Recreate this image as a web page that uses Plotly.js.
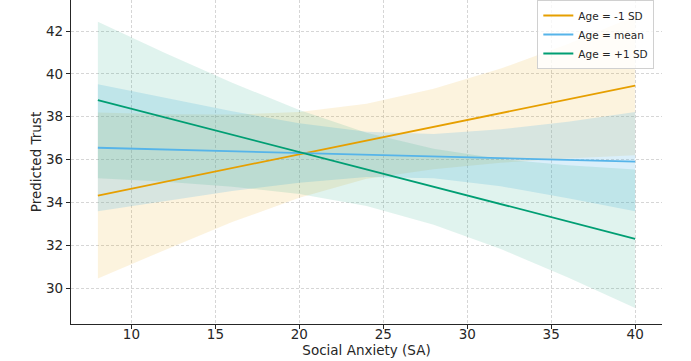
<!DOCTYPE html>
<html>
<head>
<meta charset="utf-8">
<script src="https://cdn.plot.ly/plotly-3.0.1.min.js"></script>
<style>
    body { margin: 0; background: #fff; }
    #chart { width: 691px; height: 361px; }
</style>
</head>
<body>
<div id="chart"></div>
<script>
// Social anxiety values where the predictions were read
const saValues = [8, 12, 16, 20, 24, 28, 32, 36, 40];

// Age = -1 SD
const lowAgeFit = [34.32, 34.96, 35.60, 36.24, 36.88, 37.53, 38.17, 38.81, 39.45];
const lowAgeUpper = [38.20, 38.12, 38.10, 38.22, 38.60, 39.30, 40.25, 41.40, 42.70];
const lowAgeLower = [30.44, 31.78, 33.08, 34.22, 35.10, 35.55, 35.85, 36.05, 36.20];

// Age = mean
const meanAgeFit = [36.55, 36.47, 36.39, 36.31, 36.24, 36.16, 36.08, 35.98, 35.90];
const meanAgeUpper = [39.51, 38.87, 38.25, 37.70, 37.30, 37.19, 37.41, 37.77, 38.22];
const meanAgeLower = [33.59, 34.07, 34.53, 34.92, 35.18, 35.13, 34.75, 34.19, 33.58];

// Age = +1 SD
const highAgeFit = [38.78, 37.97, 37.16, 36.35, 35.54, 34.73, 33.92, 33.11, 32.30];
const highAgeUpper = [42.43, 40.98, 39.59, 38.31, 37.25, 36.50, 36.02, 35.73, 35.53];
const highAgeLower = [35.13, 34.96, 34.73, 34.39, 33.83, 32.96, 31.82, 30.49, 29.07];

const groups = [
    { name: 'Age = -1 SD', fit: lowAgeFit, upper: lowAgeUpper, lower: lowAgeLower, color: '#E69F00', band: 'rgba(230,159,0,0.13)' },
    { name: 'Age = mean', fit: meanAgeFit, upper: meanAgeUpper, lower: meanAgeLower, color: '#56B4E9', band: 'rgba(86,180,233,0.22)' },
    { name: 'Age = +1 SD', fit: highAgeFit, upper: highAgeUpper, lower: highAgeLower, color: '#009E73', band: 'rgba(0,158,115,0.12)' }
];

// All confidence bands first, fitted lines drawn on top
const bandTraces = groups.map(g => ({
    x: saValues.concat(saValues.slice().reverse()),
    y: g.upper.concat(g.lower.slice().reverse()),
    type: 'scatter',
    mode: 'lines',
    fill: 'toself',
    fillcolor: g.band,
    line: { width: 0, color: 'rgba(0,0,0,0)' },
    hoverinfo: 'skip',
    showlegend: false
}));

const lineTraces = groups.map(g => ({
    x: saValues,
    y: g.fit,
    type: 'scatter',
    mode: 'lines',
    name: g.name,
    line: { color: g.color, width: 1.8 }
}));

const axisStyle = {
    showline: true,
    linecolor: '#262626',
    linewidth: 1.2,
    mirror: false,
    ticks: 'outside',
    ticklen: 4,
    tickwidth: 1,
    tickcolor: '#262626',
    showgrid: true,
    gridcolor: '#cccccc',
    gridwidth: 0.8,
    griddash: '3px,2px',
    zeroline: false,
    tickfont: { family: 'DejaVu Sans', size: 13.5, color: '#262626' }
};

const layout = {
    width: 691,
    height: 361,
    paper_bgcolor: '#ffffff',
    plot_bgcolor: '#ffffff',
    margin: { l: 71, r: 29, t: 0, b: 37 },
    font: { family: 'DejaVu Sans', color: '#262626' },
    xaxis: Object.assign({}, axisStyle, {
        range: [6.4, 41.6],
        tickvals: [10, 15, 20, 25, 30, 35, 40],
        ticklabelstandoff: -6,
        title: { text: 'Social Anxiety (SA)', font: { size: 13.5 }, standoff: 2 }
    }),
    yaxis: Object.assign({}, axisStyle, {
        range: [28.32, 43.45],
        tickvals: [30, 32, 34, 36, 38, 40, 42],
        title: { text: 'Predicted Trust', font: { size: 13.5 }, standoff: 1 }
    }),
    legend: {
        x: 0.987,
        y: 1.0,
        xanchor: 'right',
        yanchor: 'top',
        bgcolor: 'rgba(255,255,255,0.8)',
        bordercolor: '#d0d0d0',
        borderwidth: 1,
        font: { family: 'DejaVu Sans', size: 10.5, color: '#262626' },
        tracegroupgap: 0,
        itemwidth: 30
    },
    showlegend: true
};

Plotly.newPlot('chart', bandTraces.concat(lineTraces), layout, { displayModeBar: false, staticPlot: true });
</script>
</body>
</html>
